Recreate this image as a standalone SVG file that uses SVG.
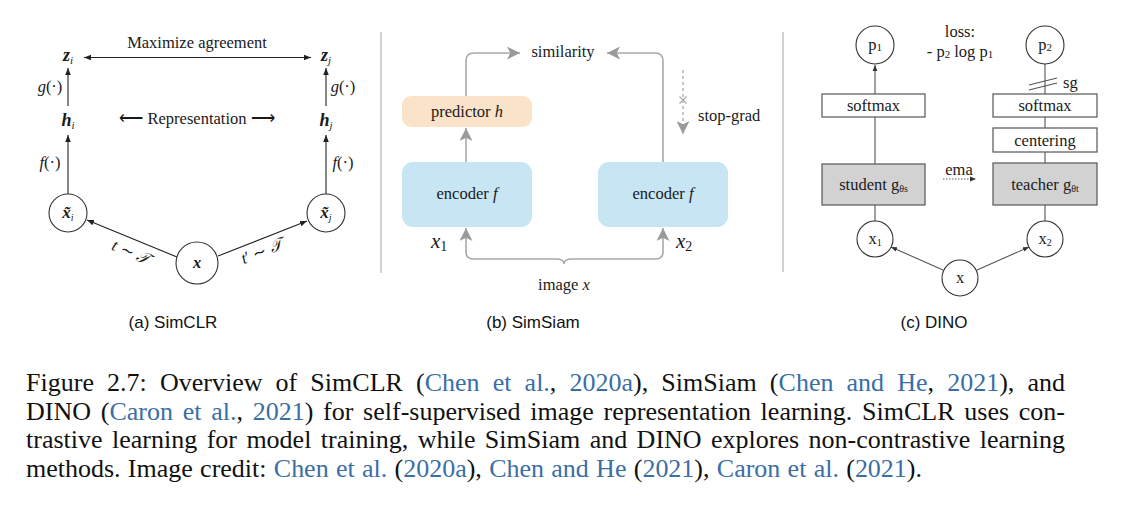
<svg xmlns="http://www.w3.org/2000/svg" width="1122" height="509" viewBox="0 0 1122 509">
<defs>
<style>
.s{font-family:"Liberation Serif","Times New Roman",serif;fill:#1a1a1a;font-size:16.5px}
.m{text-anchor:middle}
.sub{font-family:"Liberation Sans",Arial,sans-serif;font-size:17px;fill:#111;text-anchor:middle}
.cap{font-family:"Liberation Serif","Times New Roman",serif;font-size:26px;fill:#111}
.lk{fill:#3a6ea5}
.blk{stroke:#222;stroke-width:1.1;fill:none}
.gry{stroke:#a9a9a9;stroke-width:1.6;fill:none}
.circ{fill:#fff;stroke:#333;stroke-width:1.1}
.dbox{fill:#fff;stroke:#555;stroke-width:1.2}
.gbox{fill:#d2d2d2;stroke:#555;stroke-width:1.2}
.dl{stroke:#555;stroke-width:1.1;fill:none}
.sep{stroke:#c4c4c4;stroke-width:1.5}
.bi{font-weight:bold;font-style:italic}
.it{font-style:italic}
</style>
<marker id="ab" viewBox="0 0 10 10" refX="10" refY="5" markerWidth="7" markerHeight="7" markerUnits="userSpaceOnUse" orient="auto-start-reverse"><path d="M0,1 L10,5 L0,9 z" fill="#222"/></marker>
<marker id="ag" viewBox="0 0 10 10" refX="10" refY="5" markerWidth="13" markerHeight="13" markerUnits="userSpaceOnUse" orient="auto"><path d="M0,0 L10,5 L0,10 L2.5,5 z" fill="#9a9a9a"/></marker>
<marker id="ad" viewBox="0 0 10 10" refX="10" refY="5" markerWidth="6" markerHeight="6" markerUnits="userSpaceOnUse" orient="auto"><path d="M0,1 L10,5 L0,9 z" fill="#333"/></marker>
</defs>

<rect width="1122" height="509" fill="#fff"/>

<!-- separators -->
<line class="sep" x1="381" y1="32" x2="381" y2="273"/>
<line class="sep" x1="783" y1="32" x2="783" y2="272"/>

<!-- ================= SimCLR ================= -->
<g id="connectors-simclr">
  <line class="blk" x1="84" y1="57.5" x2="311" y2="57.5" marker-start="url(#ab)" marker-end="url(#ab)"/>
  <line class="blk" x1="68" y1="106" x2="68" y2="68" marker-end="url(#ab)"/>
  <line class="blk" x1="326" y1="106" x2="326" y2="68" marker-end="url(#ab)"/>
  <line class="blk" x1="68" y1="194" x2="68" y2="135" marker-end="url(#ab)"/>
  <line class="blk" x1="326" y1="194" x2="326" y2="135" marker-end="url(#ab)"/>
  <line class="blk" x1="177" y1="257" x2="87" y2="220" marker-end="url(#ab)"/>
  <line class="blk" x1="218" y1="256" x2="307" y2="221" marker-end="url(#ab)"/>
</g>
<text class="s m" x="197" y="48">Maximize agreement</text>
<text class="s m" x="197" y="124">⟵ Representation ⟶</text>
<g id="zi"><text class="s m" x="68" y="61"><tspan class="bi" font-size="18">z</tspan><tspan class="it" font-size="11" dy="3">i</tspan></text></g>
<g id="zj"><text class="s m" x="326" y="61"><tspan class="bi" font-size="18">z</tspan><tspan class="it" font-size="11" dy="3">j</tspan></text></g>
<g id="hi"><text class="s m" x="68" y="126"><tspan class="bi" font-size="18">h</tspan><tspan class="it" font-size="11" dy="3">i</tspan></text></g>
<g id="hj"><text class="s m" x="326" y="126"><tspan class="bi" font-size="18">h</tspan><tspan class="it" font-size="11" dy="3">j</tspan></text></g>
<text class="s m" x="50" y="92" font-size="17"><tspan class="it">g</tspan>(·)</text>
<text class="s m" x="343" y="92" font-size="17"><tspan class="it">g</tspan>(·)</text>
<text class="s m" x="50" y="168" font-size="17"><tspan class="it">f</tspan>(·)</text>
<text class="s m" x="343" y="168" font-size="17"><tspan class="it">f</tspan>(·)</text>
<g id="xti"><circle class="circ" cx="68" cy="213" r="19"/><text class="s m" x="68" y="218"><tspan class="bi" font-size="17">x̃</tspan><tspan class="it" font-size="10" dy="3">i</tspan></text></g>
<g id="xtj"><circle class="circ" cx="326" cy="213" r="19"/><text class="s m" x="326" y="218"><tspan class="bi" font-size="17">x̃</tspan><tspan class="it" font-size="10" dy="3">j</tspan></text></g>
<g id="x"><circle class="circ" cx="197" cy="263" r="21"/><text class="s m bi" x="197" y="268" font-size="17">x</text></g>
<text class="s m" font-size="18" transform="translate(129,257) rotate(23)"><tspan class="it">t</tspan> ∼ <tspan class="it">𝒯</tspan></text>
<text class="s m" font-size="18" transform="translate(264,256) rotate(-22)"><tspan class="it">t</tspan>′ ∼ <tspan class="it">𝒯</tspan></text>

<!-- ================= SimSiam ================= -->
<g id="connectors-simsiam">
  <path class="gry" d="M466,96 V61 Q466,53 474,53 H520" marker-end="url(#ag)"/>
  <path class="gry" d="M663,162 V61 Q663,53 655,53 H607" marker-end="url(#ag)"/>
  <line class="gry" x1="466" y1="162" x2="466" y2="128" marker-end="url(#ag)"/>
  <path class="gry" d="M466,252 Q466,259 474,259 H556 Q564,259 564,264 Q564,259 572,259 H655 Q663,259 663,252"/>
  <line class="gry" x1="466" y1="252" x2="466" y2="228" marker-end="url(#ag)"/>
  <line class="gry" x1="663" y1="252" x2="663" y2="228" marker-end="url(#ag)"/>
  <line x1="683" y1="70" x2="683" y2="124" stroke="#aaa" stroke-width="1.3" stroke-dasharray="3,3"/>
  <path d="M679.5,96.5 L686.5,103.5 M686.5,96.5 L679.5,103.5" stroke="#aaa" stroke-width="1.2"/>
  <line x1="683" y1="124" x2="683" y2="134" stroke="#aaa" stroke-width="1.3" marker-end="url(#ag)"/>
</g>
<text class="s m" x="563" y="57">similarity</text>
<text class="s" x="698" y="121">stop-grad</text>
<g id="predictor"><rect x="402" y="96" width="130" height="31" rx="9" fill="#fbe3c9"/><text class="s m" x="467" y="117">predictor <tspan class="it">h</tspan></text></g>
<g id="encoder1"><rect x="402" y="162" width="130" height="65" rx="11" fill="#c8e5f3"/><text class="s m" x="467" y="199">encoder <tspan class="it">f</tspan></text></g>
<g id="encoder2"><rect x="598" y="162" width="130" height="65" rx="11" fill="#c8e5f3"/><text class="s m" x="663" y="199">encoder <tspan class="it">f</tspan></text></g>
<text class="s" x="431" y="248"><tspan class="it" font-size="21">x</tspan><tspan font-size="14" dy="3">1</tspan></text>
<text class="s" x="676" y="248"><tspan class="it" font-size="21">x</tspan><tspan font-size="14" dy="3">2</tspan></text>
<text class="s m" x="564" y="290">image <tspan class="it">x</tspan></text>

<!-- ================= DINO ================= -->
<g id="connectors-dino">
  <line class="dl" x1="875" y1="94" x2="875" y2="65" marker-end="url(#ad)"/>
  <line class="dl" x1="875" y1="117" x2="875" y2="164"/>
  <line class="dl" x1="875" y1="205" x2="875" y2="221"/>
  <line class="dl" x1="1045" y1="64" x2="1045" y2="94"/>
  <path class="dl" d="M1029,85 L1057,78 M1029,90 L1057,83"/>
  <line class="dl" x1="1045" y1="117" x2="1045" y2="128"/>
  <line class="dl" x1="1045" y1="152" x2="1045" y2="163"/>
  <line class="dl" x1="1045" y1="205" x2="1045" y2="221"/>
  <line class="dl" x1="943" y1="270" x2="891" y2="247" stroke="#333" stroke-width="1.3" marker-end="url(#ad)"/>
  <line class="dl" x1="977" y1="270" x2="1029" y2="247" stroke="#333" stroke-width="1.3" marker-end="url(#ad)"/>
  <line x1="943" y1="179" x2="976" y2="179" stroke="#444" stroke-width="0.9" stroke-dasharray="1.5,1.5" marker-end="url(#ad)"/>
</g>
<text class="s m" x="960" y="37">loss:</text>
<text class="s m" x="960" y="57">- p<tspan font-size="11" dy="1">2</tspan><tspan dy="-1"> log p</tspan><tspan font-size="11" dy="1">1</tspan></text>
<text class="s" x="1063" y="88" font-size="13">sg</text>
<text class="s m" x="959" y="175" font-size="14">ema</text>
<g id="p1"><circle class="circ" cx="875" cy="45" r="19" stroke="#555"/><text class="s m" x="875" y="50">p<tspan font-size="11" dy="1">1</tspan></text></g>
<g id="p2"><circle class="circ" cx="1045" cy="45" r="19" stroke="#555"/><text class="s m" x="1045" y="50">p<tspan font-size="11" dy="1">2</tspan></text></g>
<g id="softmax1"><rect class="dbox" x="822" y="94" width="103" height="23"/><text class="s m" x="873.5" y="111">softmax</text></g>
<g id="softmax2"><rect class="dbox" x="993" y="94" width="104" height="23"/><text class="s m" x="1045" y="111">softmax</text></g>
<g id="centering"><rect class="dbox" x="993" y="128" width="104" height="24"/><text class="s m" x="1045" y="146">centering</text></g>
<g id="student"><rect class="gbox" x="822" y="164" width="103" height="41"/><text class="s m" x="873.5" y="190" font-size="17">student g<tspan font-size="10" dy="2">θs</tspan></text></g>
<g id="teacher"><rect class="gbox" x="993" y="163" width="104" height="42"/><text class="s m" x="1045" y="190" font-size="17">teacher g<tspan font-size="10" dy="2">θt</tspan></text></g>
<g id="x1"><circle class="circ" cx="875" cy="239" r="18" stroke="#555"/><text class="s m" x="875" y="244" font-size="17">x<tspan font-size="10" dy="2">1</tspan></text></g>
<g id="x2"><circle class="circ" cx="1045" cy="239" r="18" stroke="#555"/><text class="s m" x="1045" y="244" font-size="17">x<tspan font-size="10" dy="2">2</tspan></text></g>
<g id="xd"><circle class="circ" cx="960" cy="278" r="18" stroke="#555"/><text class="s m" x="960" y="283" font-size="17">x</text></g>

<!-- sub-captions -->
<text class="sub" x="173" y="328">(a) SimCLR</text>
<text class="sub" x="533" y="328">(b) SimSiam</text>
<text class="sub" x="934" y="328">(c) DINO</text>

<!-- caption -->
<text class="cap" x="26" y="391" word-spacing="6.6" textLength="1039" lengthAdjust="spacing">Figure 2.7: Overview of SimCLR (<tspan class="lk">Chen et al.</tspan>, <tspan class="lk">2020a</tspan>), SimSiam (<tspan class="lk">Chen and He</tspan>, <tspan class="lk">2021</tspan>), and</text>
<text class="cap" x="26" y="420" word-spacing="3.2" textLength="1039" lengthAdjust="spacing">DINO (<tspan class="lk">Caron et al.</tspan>, <tspan class="lk">2021</tspan>) for self-supervised image representation learning. SimCLR uses con-</text>
<text class="cap" x="26" y="448" word-spacing="2.9" textLength="1039" lengthAdjust="spacing">trastive learning for model training, while SimSiam and DINO explores non-contrastive learning</text>
<text class="cap" x="26" y="477" word-spacing="0.8" textLength="896" lengthAdjust="spacing">methods. Image credit: <tspan class="lk">Chen et al.</tspan> (<tspan class="lk">2020a</tspan>), <tspan class="lk">Chen and He</tspan> (<tspan class="lk">2021</tspan>), <tspan class="lk">Caron et al.</tspan> (<tspan class="lk">2021</tspan>).</text>
</svg>
